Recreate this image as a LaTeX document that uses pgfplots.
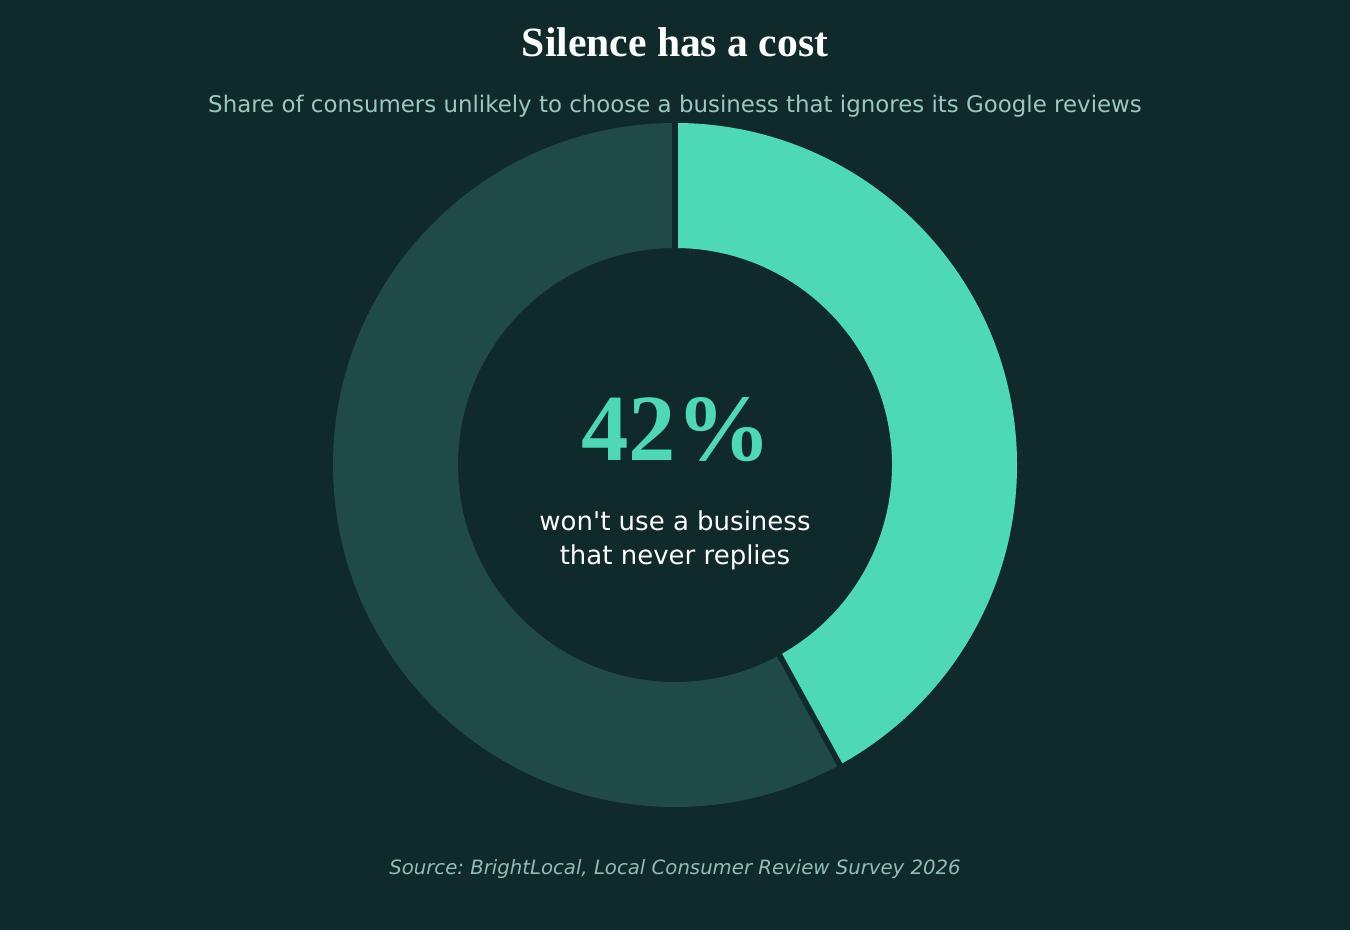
\documentclass[border=0pt]{standalone}
\usepackage{pgfplots}
\usepackage{pgfplotstable}
\pgfplotsset{compat=1.18}
\usepackage{fontspec}
\setmainfont{DejaVu Sans}[Ligatures=TeXOff]
\newfontfamily\titlefont{Liberation Serif}
\frenchspacing

\definecolor{bg}{HTML}{10292A}
\definecolor{teal}{HTML}{4DD9B5}
\definecolor{darkslice}{HTML}{1F4A47}
\definecolor{subtxt}{HTML}{9CC8BC}
\definecolor{srctxt}{HTML}{93BDB2}

% share of consumers (percent)
\pgfplotstableread{
label value
never 42
rest 58
}\sharetable

\begin{document}
\begin{tikzpicture}
\fill[bg] (0,0) rectangle (675pt,465pt);
\begin{axis}[
    at={(0,0)}, anchor=south west,
    scale only axis, width=675pt, height=465pt,
    xmin=0, xmax=1350, ymin=0, ymax=930,
    hide axis, clip=false,
]
\pgfplotstablegetelem{0}{value}\of\sharetable
\pgfmathtruncatemacro{\pa}{\pgfplotsretval}
\pgfmathsetmacro{\ang}{90-3.6*\pa}
% dark remainder slice (full ring), then the 42% slice over it
\fill[darkslice,even odd rule] (axis cs:675,465) circle[radius=171pt]
    (axis cs:675,465) circle[radius=108.5pt];
\fill[teal] ([shift={(90:171pt)}]axis cs:675,465) arc[start angle=90, end angle=\ang, radius=171pt]
    -- ([shift={(\ang:108.5pt)}]axis cs:675,465) arc[start angle=\ang, end angle=90, radius=108.5pt] -- cycle;
\draw[bg,line width=2.8pt] ([shift={(90:107pt)}]axis cs:675,465) -- ([shift={(90:173pt)}]axis cs:675,465);
\draw[bg,line width=2.8pt] ([shift={(\ang:107pt)}]axis cs:675,465) -- ([shift={(\ang:173pt)}]axis cs:675,465);

\node[text=white,font=\titlefont\bfseries\fontsize{20.8}{24}\selectfont] at (axis cs:675,888) {Silence has a cost};
\node[text=subtxt,font=\fontsize{11.45}{13}\selectfont] at (axis cs:675,824) {Share of consumers unlikely to choose a business that ignores its Google reviews};
\node[text=teal,font=\titlefont\bfseries\fontsize{47.4}{54}\selectfont] at (axis cs:676,500) {\pa\%};
\node[text=white,font=\fontsize{13}{17}\selectfont,align=center] at (axis cs:675,390) {won't use a business\\that never replies};
\node[text=srctxt,font=\itshape\fontsize{9.85}{12}\selectfont] at (axis cs:675,61) {Source: BrightLocal, Local Consumer Review Survey 2026};
\end{axis}
\end{tikzpicture}
\end{document}
